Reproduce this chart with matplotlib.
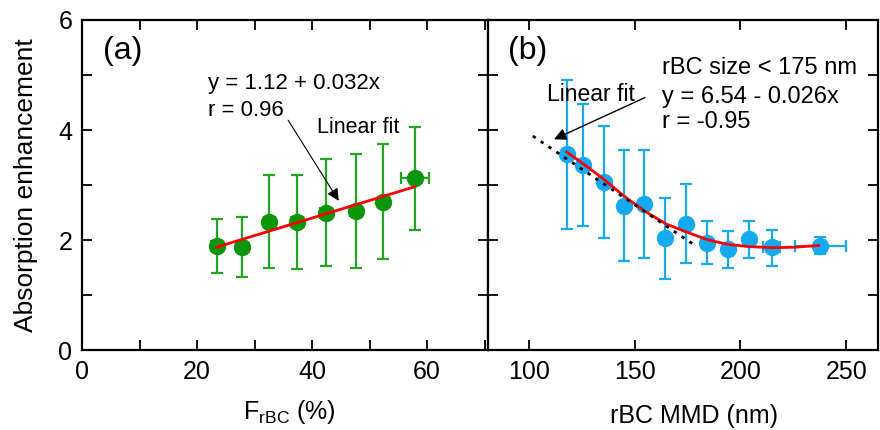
import matplotlib.pyplot as plt

plt.rcParams['font.family'] = ['Liberation Sans', 'DejaVu Sans']

# panel (a): Eabs vs rBC mass fraction
frbc = [23.4, 27.9, 32.6, 37.4, 42.4, 47.6, 52.4, 57.9]
frbc_err = [1.0, 1.0, 1.0, 1.0, 1.0, 1.0, 1.0, 2.4]
eabs_a = [1.89, 1.88, 2.33, 2.33, 2.50, 2.53, 2.70, 3.12]
eabs_a_hi = [2.39, 2.41, 3.18, 3.19, 3.47, 3.56, 3.75, 4.05]
eabs_a_lo = [1.40, 1.33, 1.50, 1.48, 1.53, 1.50, 1.65, 2.18]
fit_a_x = [23.4, 57.9]
fit_a_y = [1.87, 2.97]

# panel (b): Eabs vs rBC MMD
mmd = [118.0, 125.6, 135.4, 144.9, 154.6, 164.5, 174.5, 184.4, 194.3, 204.0, 214.7, 237.7]
mmd_err = [2, 2, 2, 2, 2, 2, 2, 2, 2, 2, 4, 12]
eabs_b = [3.56, 3.36, 3.06, 2.62, 2.65, 2.03, 2.30, 1.95, 1.84, 2.01, 1.87, 1.90]
eabs_b_hi = [4.90, 4.47, 4.07, 3.63, 3.63, 2.76, 3.01, 2.35, 2.17, 2.34, 2.19, 2.06]
eabs_b_lo = [2.20, 2.26, 2.04, 1.61, 1.68, 1.29, 1.58, 1.56, 1.50, 1.67, 1.53, 1.74]
curve_x = [118, 122, 127, 135, 145, 155, 165, 175, 184, 194, 204, 215, 226, 237]
curve_y = [3.60, 3.49, 3.35, 3.12, 2.80, 2.52, 2.29, 2.14, 2.01, 1.92, 1.88, 1.86, 1.87, 1.90]
lin_b_x = [102, 179]
lin_b_y = [3.89, 1.89]

green = '#0a960a'
green_bar = '#22a522'
blue = '#15aaf0'

fig = plt.figure(figsize=(8.8, 4.3), dpi=100)
ax1 = fig.add_axes([0.0932, 0.186, 0.4613, 0.7675])
ax2 = fig.add_axes([0.5545, 0.186, 0.4433, 0.7675])

lo = [v - l for v, l in zip(eabs_a, eabs_a_lo)]
hi = [h - v for v, h in zip(eabs_a, eabs_a_hi)]
ax1.errorbar(frbc, eabs_a, yerr=[lo, hi], xerr=frbc_err, fmt='o', color=green,
             ecolor=green_bar, ms=11.5, elinewidth=1.6, capsize=4, capthick=1.6, zorder=2)
ax1.plot(fit_a_x, fit_a_y, color='red', lw=2, zorder=3)

lo = [v - l for v, l in zip(eabs_b, eabs_b_lo)]
hi = [h - v for v, h in zip(eabs_b, eabs_b_hi)]
ax2.errorbar(mmd, eabs_b, yerr=[lo, hi], xerr=mmd_err, fmt='o', color=blue,
             ecolor=blue, ms=11.5, elinewidth=1.6, capsize=4, capthick=1.6, zorder=2)
ax2.plot(curve_x, curve_y, color='red', lw=2, zorder=3)
ax2.plot(lin_b_x, lin_b_y, color='black', lw=2, ls=(0, (1.2, 2.2)), zorder=4)

ax1.set_xlim(0, 70.6)
ax1.set_ylim(0, 6)
ax1.set_xticks([0, 20, 40, 60])
ax1.set_xticks([10, 30, 50, 70], minor=True)
ax1.set_yticks([0, 2, 4, 6])
ax1.set_yticks([1, 3, 5], minor=True)

ax2.set_xlim(80.8, 265)
ax2.set_ylim(0, 6)
ax2.set_xticks([100, 150, 200, 250])
ax2.set_yticks([0, 2, 4, 6])
ax2.set_yticks([1, 3, 5], minor=True)
ax2.tick_params(axis='y', which='both', labelleft=False)

for ax in (ax1, ax2):
    ax.tick_params(which='both', direction='in', top=True, right=True,
                   length=7, width=1.3, labelsize=18, pad=7)
    for s in ax.spines.values():
        s.set_linewidth(1.6)

ax1.set_ylabel('Absorption enhancement', fontsize=19)
ax1.yaxis.set_label_coords(-0.108, 0.5)
ax1.set_xlabel('F$_{\\mathregular{rBC}}$ (%)', fontsize=18)
ax1.xaxis.set_label_coords(0.51, -0.145)
ax2.set_xlabel('rBC MMD (nm)', fontsize=18)
ax2.xaxis.set_label_coords(0.527, -0.165)

ax1.text(0.052, 0.906, '(a)', transform=ax1.transAxes, fontsize=23, va='center')
ax2.text(0.051, 0.906, '(b)', transform=ax2.transAxes, fontsize=23, va='center')

ax1.text(21.9, 4.85, 'y = 1.12 + 0.032x', fontsize=16, va='center')
ax1.text(21.9, 4.36, 'r = 0.96', fontsize=16, va='center')
ax1.text(40.9, 4.04, 'Linear fit', fontsize=15.5, va='center')
ax1.annotate('', xy=(44.9, 2.67), xytext=(35.6, 4.22),
             arrowprops=dict(arrowstyle='-|>', color='black', lw=0.8, mutation_scale=18))

ax2.text(163.2, 5.13, 'rBC size < 175 nm', fontsize=17, va='center')
ax2.text(163.2, 4.60, 'y = 6.54 - 0.026x', fontsize=17, va='center')
ax2.text(163.2, 4.15, 'r = -0.95', fontsize=17, va='center')
ax2.text(108.6, 4.64, 'Linear fit', fontsize=16.5, va='center')
ax2.annotate('', xy=(110.8, 3.81), xytext=(156.1, 4.61),
             arrowprops=dict(arrowstyle='-|>', color='black', lw=1.0, mutation_scale=18))

fig.savefig('out.png', dpi=100)
